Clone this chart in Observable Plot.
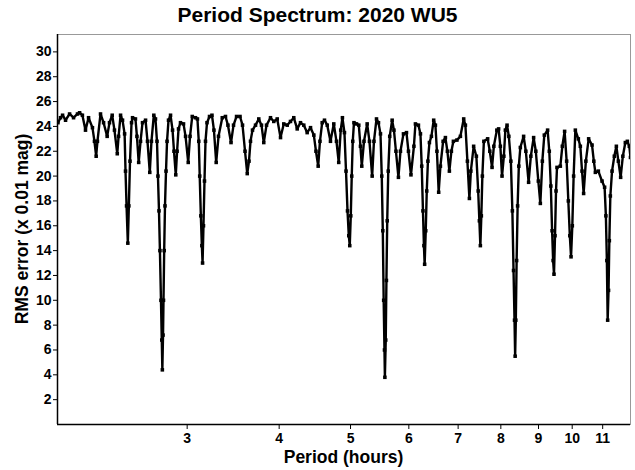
<!DOCTYPE html>
<html><head><meta charset="utf-8">
<script src="https://cdn.jsdelivr.net/npm/d3@7"></script>
<script src="https://cdn.jsdelivr.net/npm/@observablehq/plot@0.6"></script>
<style>body{margin:0;background:#fff} svg{font-family:"Liberation Sans",Arial,sans-serif}</style>
</head><body><div id="chart"></div>
<script>
const title = "Period Spectrum: 2020 WU5";
const xLabel = "Period (hours)";
const yLabel = "RMS error (x 0.01 mag)";
const xTicks = [3,4,5,6,7,8,9,10,11];
const yTicks = [2,4,6,8,10,12,14,16,18,20,22,24,26,28,30];

// Period (hours)
const period = [
2.003,2.019,2.032,2.051,2.077,2.103,2.129,2.143,2.162,2.183,
2.204,2.231,2.245,2.257,2.266,2.288,2.310,2.336,2.353,2.373,
2.390,2.411,2.421,2.436,2.451,2.467,2.474,2.482,2.492,2.500,
2.509,2.521,2.529,2.552,2.564,2.578,2.593,2.609,2.634,2.650,
2.669,2.683,2.703,2.717,2.730,2.738,2.747,2.755,2.764,2.771,
2.776,2.782,2.786,2.792,2.799,2.808,2.817,2.830,2.848,2.866,
2.879,2.895,2.907,2.920,2.938,2.966,2.985,3.010,3.027,3.048,
3.079,3.098,3.111,3.120,3.131,3.141,3.148,3.157,3.167,3.177,
3.192,3.217,3.242,3.262,3.285,3.309,3.348,3.382,3.408,3.441,
3.468,3.501,3.539,3.567,3.595,3.620,3.640,3.657,3.680,3.715,
3.753,3.785,3.812,3.845,3.893,3.933,3.976,4.017,4.058,4.102,
4.144,4.187,4.232,4.276,4.320,4.366,4.412,4.458,4.488,4.519,
4.544,4.576,4.609,4.649,4.696,4.745,4.785,4.819,4.849,4.875,
4.906,4.930,4.953,4.973,4.988,5.004,5.019,5.035,5.054,5.094,
5.131,5.158,5.179,5.215,5.267,5.305,5.350,5.380,5.423,5.457,
5.491,5.513,5.531,5.546,5.560,5.567,5.582,5.594,5.608,5.626,
5.652,5.695,5.727,5.763,5.808,5.845,5.900,5.956,5.993,6.040,
6.096,6.125,6.183,6.222,6.247,6.271,6.290,6.304,6.326,6.346,
6.369,6.399,6.439,6.485,6.520,6.551,6.587,6.623,6.679,6.727,
6.769,6.811,6.854,6.897,6.973,7.050,7.123,7.161,7.206,7.251,
7.284,7.348,7.411,7.453,7.481,7.504,7.527,7.551,7.587,7.677,
7.729,7.783,7.827,7.901,7.945,7.988,8.030,8.076,8.114,8.157,
8.203,8.255,8.294,8.324,8.350,8.366,8.384,8.405,8.431,8.463,
8.503,8.591,8.651,8.726,8.787,8.864,8.925,8.995,9.052,9.109,
9.165,9.260,9.309,9.354,9.391,9.421,9.447,9.477,9.507,9.536,
9.636,9.696,9.766,9.828,9.880,9.926,9.964,10.004,10.045,10.099,
10.194,10.258,10.313,10.364,10.437,10.528,10.640,10.700,10.751,10.852,
10.978,11.067,11.111,11.145,11.173,11.204,11.232,11.267,11.327,11.408,
11.481,11.553,11.636,11.716,11.808,11.882,11.956,11.999
];

// RMS error (x 0.01 mag)
const rms = [
24.3,24.7,24.9,24.5,25.0,24.7,25.0,25.1,24.9,23.7,
24.7,23.9,22.8,21.6,22.8,25.0,24.3,23.2,24.3,24.9,
23.7,21.8,23.2,24.9,24.5,23.4,20.4,17.6,14.6,17.6,
21.2,24.3,24.7,24.6,23.2,21.1,22.8,24.3,24.5,22.8,
20.3,22.8,24.9,24.6,22.8,20.0,17.2,14.0,10.0,6.8,
4.4,7.2,10.0,14.0,17.6,20.4,22.8,24.5,24.9,23.7,
22.0,20.1,22.0,23.8,24.3,24.2,23.2,21.1,23.2,24.8,
24.7,24.6,22.8,20.0,16.8,14.4,13.0,16.0,19.6,22.8,
24.3,24.8,24.9,23.7,21.1,23.2,24.7,24.8,24.1,22.7,
24.1,24.8,24.8,24.1,22.0,20.2,21.2,22.8,23.7,24.1,
24.6,24.1,22.7,24.1,24.7,24.4,24.6,23.1,24.2,24.1,
24.4,24.7,23.8,24.3,24.1,23.5,23.9,23.3,22.0,20.8,
22.8,24.3,24.5,24.1,22.8,24.2,22.8,21.1,23.7,24.7,
23.5,20.4,17.2,15.2,14.4,16.8,20.0,22.8,24.3,24.2,
24.1,22.4,20.8,22.8,24.2,22.8,20.0,22.8,24.6,24.3,
23.4,20.0,15.6,10.0,6.0,3.8,6.8,11.6,16.4,20.4,
23.2,24.5,23.7,22.0,19.9,22.0,23.4,23.5,22.0,20.1,
22.4,24.2,24.1,23.4,20.8,17.2,14.4,12.9,15.6,18.8,
21.2,22.7,23.2,24.5,24.1,22.0,18.7,20.8,22.8,23.1,
22.0,20.4,22.0,22.8,22.9,23.2,24.6,24.1,21.2,18.2,
20.4,22.4,21.6,18.8,16.4,14.4,16.8,20.0,22.8,23.0,
22.0,20.7,22.4,23.7,23.8,22.4,20.0,21.6,23.7,24.1,
23.2,21.2,17.2,12.4,8.4,5.5,8.4,13.2,17.6,20.8,
22.3,23.2,22.0,19.5,21.6,23.1,22.0,19.6,17.8,21.2,
23.3,23.7,22.0,19.2,15.6,13.2,12.1,15.2,18.8,20.7,
20.8,22.4,23.6,21.2,18.0,15.2,13.5,16.0,20.0,23.7,
23.0,22.4,20.4,18.6,21.2,23.0,22.5,21.2,20.3,20.4,
19.6,19.1,16.8,13.2,8.4,10.8,14.8,18.4,20.4,21.6,
22.4,21.2,19.9,21.6,22.7,22.8,22.4,21.5
];

const data = period.map((p, i) => ({p, v: rms[i]}));

const W = 635, H = 470;
const mL = 57, mR = 5, mT = 34, mB = 46;

const chart = Plot.plot({
  width: W, height: H,
  marginLeft: mL, marginRight: mR, marginTop: mT, marginBottom: mB,
  style: {fontFamily: "Liberation Sans, Arial, sans-serif", fontSize: "14px", fontWeight: "bold", background: "#fff", color: "#000"},
  x: {type: "log", domain: [2, 12], ticks: xTicks, tickFormat: d => String(d), tickSize: 5, tickPadding: 4, label: null},
  y: {domain: [0, 31.4], ticks: yTicks, tickSize: 4, tickPadding: 2, label: null},
  marks: [
    Plot.frame({stroke: "#999"}),
    Plot.ruleX([2], {stroke: "#000", strokeWidth: 1.5}),
    Plot.ruleY([0], {stroke: "#000", strokeWidth: 1.5}),
    Plot.line(data, {x: "p", y: "v", stroke: "#000", strokeWidth: 2.4, clip: true}),
    Plot.dot(data, {x: "p", y: "v", symbol: "square", r: 2, fill: "#000", stroke: "none", clip: true})
  ]
});

const svg = d3.select(chart);
svg.append("text").attr("x", W / 2).attr("y", 22).attr("text-anchor", "middle")
  .style("font-size", "21px").style("font-weight", "bold").text(title);
svg.append("text").attr("x", (mL + W - mR) / 2).attr("y", 463).attr("text-anchor", "middle")
  .style("font-size", "17.5px").style("font-weight", "bold").text(xLabel);
svg.append("text").attr("transform", `translate(28,${(mT + H - mB) / 2}) rotate(-90)`).attr("text-anchor", "middle")
  .style("font-size", "17.5px").style("font-weight", "bold").text(yLabel);

document.getElementById("chart").appendChild(chart);
</script>
</body></html>
